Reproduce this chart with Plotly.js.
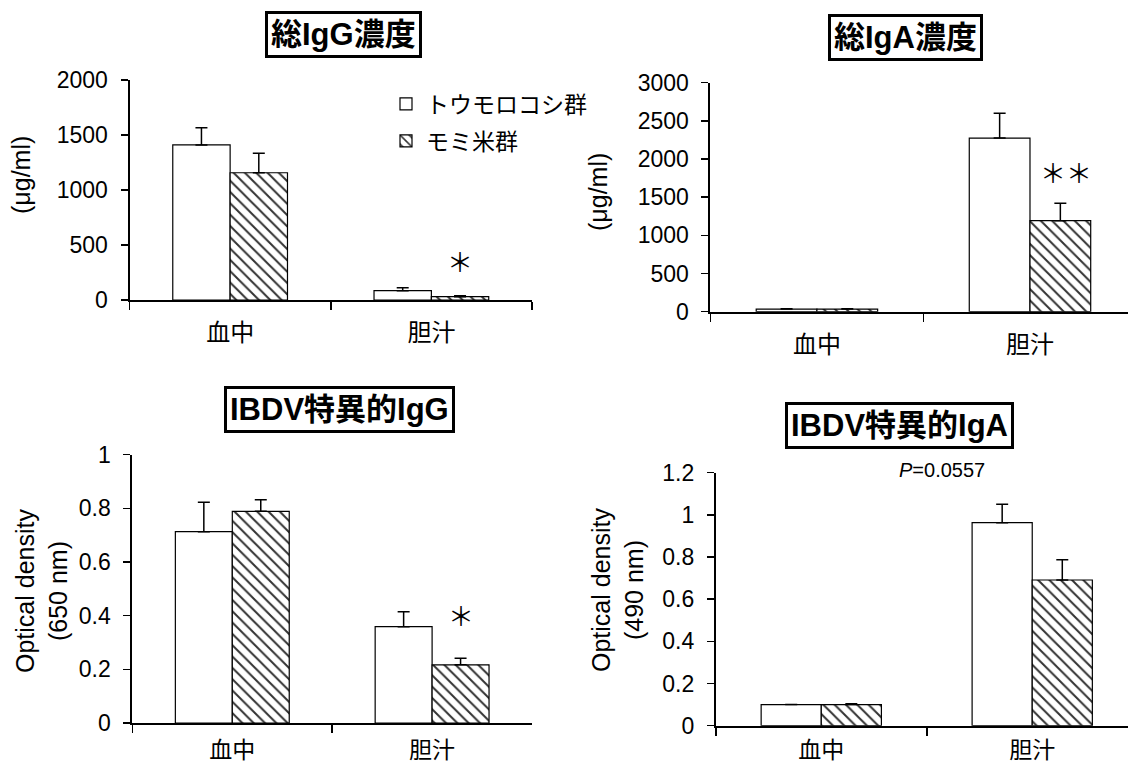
<!DOCTYPE html>
<html>
<head>
<meta charset="utf-8">
<script src="https://cdn.plot.ly/plotly-3.0.1.min.js"></script>
<style>
  html, body { margin: 0; padding: 0; background: #fff; overflow: hidden; }
  #chart { width: 1128px; height: 768px; }
</style>
</head>
<body>
<div id="chart"></div>
<script>
// ---- data ----
const categories = ['血中', '胆汁'];
const seriesNames = ['トウモロコシ群', 'モミ米群'];

const totalIgG_corn = [1410, 85];
const totalIgG_corn_se = [155, 27];
const totalIgG_momi = [1157, 30];
const totalIgG_momi_se = [176, 9];

const totalIgA_corn = [35, 2275];
const totalIgA_corn_se = [4, 325];
const totalIgA_momi = [35, 1192];
const totalIgA_momi_se = [3, 228];

const ibdvIgG_corn = [0.713, 0.359];
const ibdvIgG_corn_se = [0.110, 0.056];
const ibdvIgG_momi = [0.789, 0.217];
const ibdvIgG_momi_se = [0.043, 0.024];

const ibdvIgA_corn = [0.100, 0.963];
const ibdvIgA_corn_se = [0.001, 0.087];
const ibdvIgA_momi = [0.100, 0.691];
const ibdvIgA_momi_se = [0.004, 0.096];

const panelTitles = ['<b>総IgG濃度</b>', '<b>総IgA濃度</b>', '<b>IBDV特異的IgG</b>', '<b>IBDV特異的IgA</b>'];
const yTitles = ['(μg/ml)', '(μg/ml)', 'Optical density<br>(650 nm)', 'Optical density<br>(490 nm)'];

// ---- helpers ----
const W = 1128, H = 768;
const px = x => x / W;
const py = y => 1 - y / H;
const FONT = 'Arial, "Liberation Sans", "Noto Sans CJK JP", sans-serif';
const CJK = '"Noto Sans CJK JP", sans-serif';

function errBar(se) {
  return { type: 'data', symmetric: false, array: se, arrayminus: se.map(() => 0),
           color: 'black', thickness: 1.5, width: 6 };
}
function cornTrace(vals, se, ax, show) {
  return { type: 'bar', x: categories, y: vals, name: seriesNames[0],
    xaxis: 'x' + ax, yaxis: 'y' + ax, showlegend: show, legend: 'legend',
    marker: { color: 'white', line: { color: 'black', width: 1.2 } },
    error_y: errBar(se), hoverinfo: 'skip' };
}
function momiTrace(vals, se, ax, show) {
  return { type: 'bar', x: categories, y: vals, name: seriesNames[1],
    xaxis: 'x' + ax, yaxis: 'y' + ax, showlegend: show, legend: 'legend2',
    marker: { color: 'white', line: { color: 'black', width: 1.2 },
      pattern: { shape: '\\', fgcolor: '#333333', bgcolor: 'white', size: 8, solidity: 0.25 } },
    error_y: errBar(se), hoverinfo: 'skip' };
}

const data = [
  cornTrace(totalIgG_corn, totalIgG_corn_se, '', true),
  momiTrace(totalIgG_momi, totalIgG_momi_se, '', true),
  cornTrace(totalIgA_corn, totalIgA_corn_se, '2', false),
  momiTrace(totalIgA_momi, totalIgA_momi_se, '2', false),
  cornTrace(ibdvIgG_corn, ibdvIgG_corn_se, '3', false),
  momiTrace(ibdvIgG_momi, ibdvIgG_momi_se, '3', false),
  cornTrace(ibdvIgA_corn, ibdvIgA_corn_se, '4', false),
  momiTrace(ibdvIgA_momi, ibdvIgA_momi_se, '4', false)
];

function xAx(domain, range, anchor, fsize, standoff) {
  return { domain: domain, range: range, anchor: anchor, type: 'category',
    showline: true, linecolor: 'black', linewidth: 2, mirror: false,
    ticks: 'outside', tickson: 'boundaries', ticklen: 8, tickwidth: 1.5, tickcolor: 'black',
    tickfont: { size: fsize, family: CJK, color: 'black' }, ticklabelstandoff: standoff,
    showgrid: false, zeroline: false, fixedrange: true };
}
function yAx(domain, range, dtick, anchor) {
  return { domain: domain, range: range, dtick: dtick, tick0: 0, anchor: anchor,
    showline: true, linecolor: 'black', linewidth: 2,
    ticks: 'outside', ticklen: 7, tickwidth: 1.5, tickcolor: 'black',
    tickfont: { size: 23, family: FONT, color: 'black' }, ticklabelstandoff: 8,
    showgrid: false, zeroline: false, fixedrange: true };
}

const titleBox = (text, x, y) => ({ text: text, xref: 'paper', yref: 'paper', x: px(x), y: py(y),
  xanchor: 'center', yanchor: 'middle', showarrow: false,
  font: { size: 31, family: FONT, color: 'black' },
  bordercolor: 'black', borderwidth: 3, borderpad: 3, bgcolor: 'white' });

const yTitle = (text, x, y) => ({ text: text, xref: 'paper', yref: 'paper', x: px(x), y: py(y),
  xanchor: 'center', yanchor: 'middle', showarrow: false, textangle: -90,
  font: { size: 25, family: FONT, color: 'black' } });

const layout = {
  width: W, height: H, margin: { l: 0, r: 0, t: 0, b: 0 },
  paper_bgcolor: 'white', plot_bgcolor: 'white',
  barmode: 'group', bargap: 0.43, bargroupgap: 0,
  font: { family: FONT, color: 'black', size: 22 },
  xaxis: xAx([px(129.5), px(532)], [-0.5, 1.5], 'y', 24, 10),
  yaxis: yAx([py(300), py(80)], [0, 2000], 500, 'x'),
  xaxis2: xAx([px(710.4), 1], [-0.5, 1.46], 'y2', 24, 10),
  yaxis2: yAx([py(311.7), py(82.7)], [0, 3000], 500, 'x2'),
  xaxis3: xAx([px(132.4), px(532)], [-0.5, 1.5], 'y3', 23, 5),
  yaxis3: yAx([py(723), py(454.7)], [0, 1], 0.2, 'x3'),
  xaxis4: xAx([px(715.8), 1], [-0.5, 1.454], 'y4', 23, 3),
  yaxis4: yAx([py(725.7), py(472.7)], [0, 1.2], 0.2, 'x4'),
  legend: { x: px(386), y: py(104), xanchor: 'left', yanchor: 'middle',
    font: { size: 23, family: CJK, color: 'black' }, bgcolor: 'rgba(0,0,0,0)', borderwidth: 0 },
  legend2: { x: px(386), y: py(141), xanchor: 'left', yanchor: 'middle',
    font: { size: 23, family: CJK, color: 'black' }, bgcolor: 'rgba(0,0,0,0)', borderwidth: 0 },
  annotations: [
    titleBox(panelTitles[0], 343.5, 35),
    titleBox(panelTitles[1], 905.4, 37),
    titleBox(panelTitles[2], 339, 409.5),
    titleBox(panelTitles[3], 899.5, 425.5),
    yTitle(yTitles[0], 21, 175),
    yTitle(yTitles[1], 598, 192),
    yTitle(yTitles[2], 41, 591),
    yTitle(yTitles[3], 617, 590),
    { text: '＊', xref: 'x', yref: 'y', x: 1.1425, y: 355, showarrow: false,
      font: { size: 26, family: CJK, color: 'black' } },
    { text: '＊＊', xref: 'x2', yref: 'y2', x: 1.17, y: 1834, showarrow: false,
      font: { size: 26, family: CJK, color: 'black' } },
    { text: '＊', xref: 'x3', yref: 'y3', x: 1.1425, y: 0.406, showarrow: false,
      font: { size: 26, family: CJK, color: 'black' } },
    { text: '<i>P</i>=0.0557', xref: 'x4', yref: 'paper', x: 0.571, y: py(470), showarrow: false,
      xanchor: 'center', yanchor: 'middle', font: { size: 20, family: FONT, color: 'black' } }
  ]
};

Plotly.newPlot('chart', data, layout, { staticPlot: true, displayModeBar: false });
</script>
</body>
</html>
